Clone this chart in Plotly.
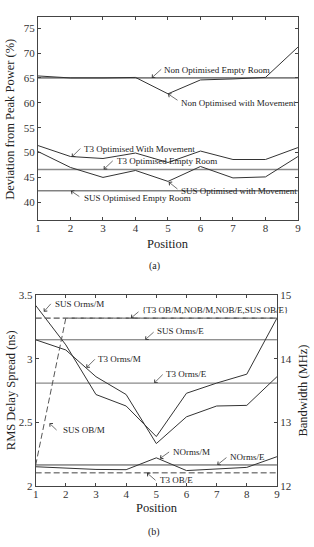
import plotly.graph_objects as go

positions = [1, 2, 3, 4, 5, 6, 7, 8, 9]

# ---- (a) Deviation from peak power (%) ----
non_opt_empty = [65.0] * 9
non_opt_move = [65.4, 65.0, 65.0, 65.1, 61.8, 64.6, 64.8, 65.1, 71.2]
t3_opt_move = [51.4, 49.2, 48.8, 49.9, 48.0, 50.3, 48.6, 48.6, 51.0]
t3_opt_empty = [46.6] * 9
sus_opt_move = [50.2, 47.0, 45.0, 46.4, 44.2, 47.2, 44.9, 45.1, 49.2]
sus_opt_empty = [42.3] * 9

# ---- (b) RMS delay spread (ns), left axis ----
sus_orms_m = [3.42, 3.11, 2.72, 2.63, 2.39, 2.73, 2.81, 2.88, 3.32]
t3_orms_m = [3.15, 3.07, 2.86, 2.72, 2.335, 2.545, 2.63, 2.635, 2.86]
sus_orms_e = [3.15] * 9
t3_orms_e = [2.81] * 9
norms_m = [2.153, 2.14, 2.132, 2.13, 2.223, 2.123, 2.135, 2.148, 2.232]
norms_e = [2.167] * 9

# ---- (b) Bandwidth (MHz), right axis ----
ob_group = [14.64] * 9
sus_ob_m = [12.33, 14.64, 14.64, 14.64, 14.64, 14.64, 14.64, 14.64, 14.64]
t3_ob_e = [12.21] * 9

W, H = 314, 547
FONT = "'Liberation Serif', 'DejaVu Serif', serif"
DARK = "#333333"
GRAY = "#8a8a8a"
AX = "#444444"

fig = go.Figure()

def line(y, xa, ya, color=DARK, width=1, dash="solid"):
    fig.add_trace(go.Scatter(x=positions, y=y, xaxis=xa, yaxis=ya, mode="lines",
                             line=dict(color=color, width=width, dash=dash),
                             showlegend=False, hoverinfo="skip"))

# (a)
line(non_opt_empty, "x", "y", color="#222222")
line(non_opt_move, "x", "y")
line(t3_opt_move, "x", "y")
line(t3_opt_empty, "x", "y", color=GRAY, width=1.5)
line(sus_opt_move, "x", "y")
line(sus_opt_empty, "x", "y", color="#444444")

# (b)
line(sus_orms_e, "x2", "y2", color="#666666")
line(t3_orms_e, "x2", "y2", color=GRAY, width=1.3)
line(sus_orms_m, "x2", "y2")
line(t3_orms_m, "x2", "y2")
line(norms_e, "x2", "y2", color="#444444")
line(norms_m, "x2", "y2")
line(ob_group, "x2", "y3", color="#555555", width=1.4, dash="6px,3px")
line(sus_ob_m, "x2", "y3", color="#555555", width=1, dash="6px,3px")
line(t3_ob_e, "x2", "y3", color="#444444", width=1, dash="6px,3px")

axis_common = dict(showline=True, linecolor=AX, linewidth=1, ticks="inside", ticklen=3,
                   tickcolor=AX, showgrid=False, zeroline=False,
                   tickfont=dict(family=FONT, size=11, color="#333"))

fig.update_layout(
    width=W, height=H, margin=dict(l=0, r=0, t=0, b=0),
    paper_bgcolor="white", plot_bgcolor="white",
    font=dict(family=FONT, color="#222"),
    xaxis=dict(domain=[35.7 / W, 300.7 / W], range=[1, 9], anchor="y",
               tickvals=positions, mirror="ticks", ticklabelstandoff=-3, **axis_common),
    yaxis=dict(domain=[1 - 219.3 / H, 1 - 11.7 / H], range=[36.34, 77.16], anchor="x",
               tickvals=[40, 45, 50, 55, 60, 65, 70, 75], mirror="ticks", **axis_common),
    xaxis2=dict(domain=[33.3 / W, 279.3 / W], range=[1, 9], anchor="y2",
                tickvals=positions, mirror="ticks", ticklabelstandoff=-2, **axis_common),
    yaxis2=dict(domain=[1 - 491 / H, 1 - 295.7 / H], range=[2, 3.5], anchor="x2",
                tickvals=[2, 2.5, 3, 3.5], ticktext=["2", "2.5", "3", "3.5"], **axis_common),
    yaxis3=dict(overlaying="y2", side="right", range=[12, 15], anchor="x2",
                tickvals=[12, 13, 14, 15], **axis_common),
)

ANN = dict(family=FONT, size=9, color="#222")

def label(text, xr, yr, tx, ty, ax, ay, dx, dy):
    # arrow from tail (tip + ax, ay px) to tip
    fig.add_annotation(x=tx, y=ty, xref=xr, yref=yr, text="", showarrow=True,
                       ax=ax, ay=ay, arrowhead=4, arrowsize=1.2, arrowwidth=0.7,
                       arrowcolor="#333", standoff=0, startstandoff=0)
    fig.add_annotation(x=tx, y=ty, xref=xr, yref=yr, text=text, showarrow=False,
                       xanchor="left", yanchor="middle", xshift=dx - 1, yshift=-dy,
                       font=ANN)

# (a) labels
label("Non Optimised Empty Room", "x", "y", 4.5, non_opt_empty[0], 11, -10, 11.6, -8.3)
label("Non Optimised with Movement", "x", "y", positions[4], non_opt_move[4], 11, 7.4, 11.7, 9.4)
label("T3 Optimised With Movement", "x", "y", 2.04, 49.1, 10, -10, 11.3, -8.3)
label("T3 Optimised Empty Room", "x", "y", 3.02, t3_opt_empty[0], 10.6, -10, 12.3, -8.3)
label("SUS Optimised Empty Room", "x", "y", 2.01, sus_opt_empty[0], 10, 6.7, 11.7, 6.7)
label("SUS Optimised with Movement", "x", "y", 5.02, 44.1, 10.3, 8.3, 11, 8.7)

# (b) labels
label("SUS Orms/M", "x2", "y2", 1.27, 3.37, 8.3, -9.4, 10, -7.7)
label("{T3 OB/M,NOB/M,NOB/E,SUS OB/E}", "x2", "y3", 4.16, ob_group[0], 9, -7.6, 10.2, -8.6)
label("SUS Orms/E", "x2", "y2", 4.63, sus_orms_e[0], 10, -9, 10.5, -8.7)
label("T3 Orms/M", "x2", "y2", 2.68, 2.93, 10, -10, 10.5, -9)
label("T3 Orms/E", "x2", "y2", 4.93, t3_orms_e[0], 10, -10, 11, -9)
label("SUS OB/M", "x2", "y3", 1.455, 12.99, 8.7, 8.3, 12.2, 7.3)
label("NOrms/M", "x2", "y2", 5.12, 2.217, 10.7, -7.7, 11.7, -6.7)
label("NOrms/E", "x2", "y2", 7.02, norms_e[0], 10.7, -8.6, 11.7, -8.3)
label("T3 OB/E", "x2", "y3", 4.69, t3_ob_e[0], 10, 8.7, 11.6, 7.4)

TITLE = dict(family=FONT, size=12.5, color="#222")

def ptext(text, px, py, angle=0, font=TITLE):
    fig.add_annotation(x=px / W, y=1 - py / H, xref="paper", yref="paper", text=text,
                       showarrow=False, textangle=angle, font=font,
                       xanchor="center", yanchor="middle")

ptext("Deviation from Peak Power (%)", 7, 115.5, -90)
ptext("Position", 168, 243)
ptext("(a)", 154, 266, font=dict(family=FONT, size=10, color="#222"))
ptext("RMS Delay Spread (ns)", 9, 393, -90)
ptext("Bandwidth (MHz)", 306, 393, -90)
ptext("Position", 156.5, 513.3)
ptext("(b)", 154, 537.7, font=dict(family=FONT, size=10, color="#222"))

fig.write_html("out.html")
